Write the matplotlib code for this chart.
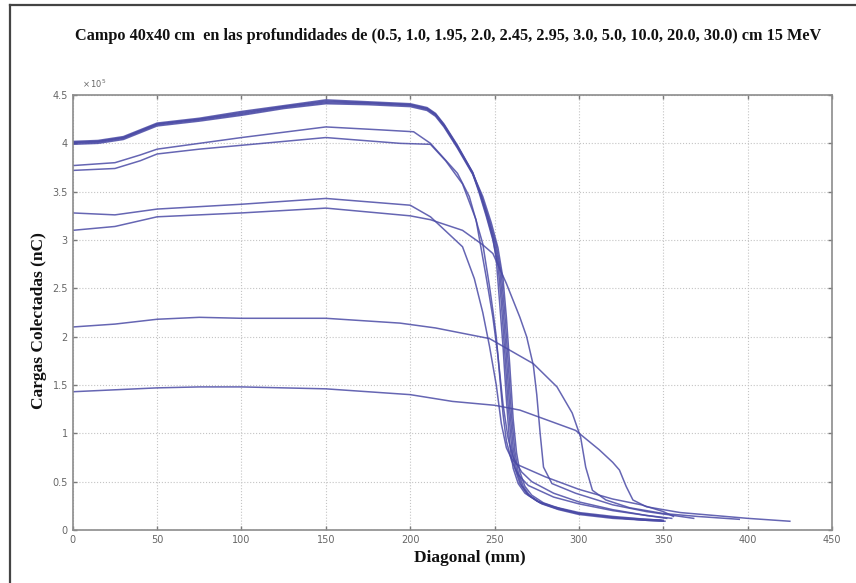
import numpy as np
import matplotlib
matplotlib.use('Agg')
import matplotlib.pyplot as plt
from matplotlib.lines import Line2D

# ── datos (carga en unidades de 1e5 nC) ─────────────────────────────
# haz superior (5 curvas casi superpuestas)
t1_x = [0, 15, 30, 40, 50, 75, 100, 125, 150, 175, 200, 210, 215, 220, 228, 237,
        241, 245, 249, 251, 253, 255, 257, 259, 261, 264, 268, 275, 285, 300, 320, 340, 350]
t1_y = [4.02, 4.03, 4.07, 4.14, 4.21, 4.26, 4.33, 4.39, 4.45, 4.43, 4.41, 4.37, 4.31, 4.20, 3.98, 3.70,
        3.50, 3.27, 3.02, 2.80, 2.35, 1.90, 1.35, 0.88, 0.64, 0.48, 0.38, 0.30, 0.24, 0.18, 0.14, 0.11, 0.10]
t2_x = [0, 15, 30, 40, 50, 75, 100, 125, 150, 175, 200, 210, 215, 220, 228, 237,
        241, 245, 249, 252, 254, 256, 258, 260, 262, 265, 269, 276, 286, 300, 320, 340, 349]
t2_y = [4.00, 4.01, 4.05, 4.12, 4.19, 4.24, 4.30, 4.37, 4.42, 4.41, 4.39, 4.35, 4.29, 4.18, 3.96, 3.69,
        3.48, 3.25, 3.00, 2.75, 2.35, 1.85, 1.30, 0.88, 0.64, 0.48, 0.38, 0.29, 0.23, 0.17, 0.13, 0.11, 0.10]
t3_x = [0, 15, 30, 40, 50, 75, 100, 125, 150, 175, 200, 210, 215, 220, 228, 237,
        242, 246, 250, 253, 255, 257, 259, 261, 263, 266, 270, 277, 287, 300, 320, 340, 351]
t3_y = [4.01, 4.02, 4.06, 4.13, 4.20, 4.25, 4.31, 4.38, 4.43, 4.42, 4.40, 4.36, 4.30, 4.19, 3.97, 3.70,
        3.47, 3.24, 2.98, 2.70, 2.30, 1.80, 1.25, 0.85, 0.62, 0.46, 0.36, 0.28, 0.22, 0.17, 0.13, 0.10, 0.09]
t4_x = [0, 15, 30, 40, 50, 75, 100, 125, 150, 175, 200, 210, 215, 220, 228, 237,
        242, 247, 251, 254, 256, 258, 260, 262, 264, 267, 271, 278, 288, 300, 320, 340, 350]
t4_y = [3.99, 4.00, 4.04, 4.11, 4.18, 4.23, 4.29, 4.36, 4.41, 4.40, 4.38, 4.34, 4.28, 4.17, 3.95, 3.68,
        3.46, 3.20, 2.95, 2.65, 2.25, 1.75, 1.20, 0.82, 0.60, 0.45, 0.35, 0.27, 0.21, 0.16, 0.12, 0.10, 0.09]
t5_x = [0, 15, 30, 40, 50, 75, 100, 125, 150, 175, 200, 210, 215, 220, 228, 237,
        243, 248, 252, 255, 257, 259, 261, 263, 265, 268, 272, 279, 289, 300, 320, 340, 348]
t5_y = [4.01, 4.02, 4.06, 4.13, 4.20, 4.25, 4.32, 4.38, 4.44, 4.42, 4.40, 4.36, 4.30, 4.19, 3.97, 3.69,
        3.45, 3.18, 2.92, 2.60, 2.20, 1.70, 1.15, 0.80, 0.60, 0.45, 0.36, 0.28, 0.22, 0.17, 0.13, 0.10, 0.10]

# segundo par
s1_x = [0, 25, 40, 50, 75, 100, 150, 182, 202, 212, 228, 235, 243, 247, 249, 251,
        253, 255, 257, 260, 264, 270, 285, 300, 320, 340, 355]
s1_y = [3.77, 3.80, 3.88, 3.94, 4.00, 4.06, 4.17, 4.14, 4.12, 4.00, 3.69, 3.45, 2.96, 2.52, 2.27, 2.00,
        1.60, 1.20, 0.92, 0.72, 0.57, 0.46, 0.34, 0.27, 0.20, 0.15, 0.12]
s2_x = [0, 25, 40, 50, 75, 100, 150, 194, 212, 221, 231, 239, 245, 249, 252,
        255, 258, 261, 266, 272, 285, 300, 320, 340, 352]
s2_y = [3.72, 3.74, 3.82, 3.89, 3.94, 3.98, 4.06, 4.00, 3.99, 3.82, 3.58, 3.21, 2.62, 2.20, 1.80,
        1.30, 0.95, 0.75, 0.60, 0.50, 0.38, 0.29, 0.21, 0.15, 0.12]

# tercer par
p1_x = [0, 25, 50, 100, 150, 200, 212, 231, 238, 243, 247, 251, 254, 257, 260,
        263, 280, 300, 320, 337, 350, 356]
p1_y = [3.28, 3.26, 3.32, 3.37, 3.43, 3.36, 3.24, 2.93, 2.60, 2.25, 1.90, 1.50, 1.10, 0.85, 0.74,
        0.68, 0.55, 0.42, 0.32, 0.26, 0.19, 0.14]
p2_x = [0, 25, 50, 100, 150, 200, 212, 231, 243, 249, 257, 265, 269, 273, 275,
        277, 279, 284, 298, 320, 340, 360, 368]
p2_y = [3.10, 3.14, 3.24, 3.28, 3.33, 3.25, 3.21, 3.10, 2.95, 2.86, 2.55, 2.20, 2.00, 1.70, 1.40,
        1.00, 0.65, 0.48, 0.38, 0.26, 0.19, 0.14, 0.12]

# curvas profundas
d20_x = [0, 25, 50, 75, 100, 150, 194, 215, 247, 273, 287, 296, 301, 304, 308,
         316, 330, 350, 370, 395]
d20_y = [2.10, 2.13, 2.18, 2.20, 2.19, 2.19, 2.14, 2.09, 1.98, 1.72, 1.48, 1.21, 0.96, 0.65, 0.41,
         0.31, 0.23, 0.17, 0.14, 0.11]
d30_x = [0, 25, 50, 75, 100, 150, 200, 225, 250, 265, 298, 312, 320, 324, 328,
         332, 340, 360, 380, 400, 425]
d30_y = [1.43, 1.45, 1.47, 1.48, 1.48, 1.46, 1.40, 1.33, 1.29, 1.24, 1.03, 0.83, 0.70, 0.62, 0.45,
         0.31, 0.24, 0.18, 0.15, 0.12, 0.09]

curves = [(t1_x, t1_y), (t2_x, t2_y), (t3_x, t3_y), (t4_x, t4_y), (t5_x, t5_y),
          (s1_x, s1_y), (s2_x, s2_y), (p1_x, p1_y), (p2_x, p2_y),
          (d20_x, d20_y), (d30_x, d30_y)]

x_ticks = [0, 50, 100, 150, 200, 250, 300, 350, 400, 450]
y_ticks = [0, 0.5, 1, 1.5, 2, 2.5, 3, 3.5, 4, 4.5]
y_ticklabels = ['0', '0.5', '1', '1.5', '2', '2.5', '3', '3.5', '4', '4.5']

titulo = ("Campo 40x40 cm  en las profundidades de (0.5, 1.0, 1.95, 2.0, 2.45, "
          "2.95, 3.0, 5.0, 10.0, 20.0, 30.0) cm 15 MeV")

serif = ['Liberation Serif', 'DejaVu Serif']
gris = '#7a7a7a'
linea = '#4b4ba6'

fig = plt.figure(figsize=(8.56, 5.83), dpi=100)
ax = fig.add_axes([0.085, 0.091, 0.887, 0.746])

for xs, ys in curves:
    ax.plot(xs, ys, color=linea, lw=1.1, alpha=0.85)

ax.set_xlim(0, 450)
ax.set_ylim(0, 4.5)
ax.set_xticks(x_ticks)
ax.set_yticks(y_ticks)
ax.set_xticklabels([str(v) for v in x_ticks])
ax.set_yticklabels(y_ticklabels)
ax.tick_params(direction='in', length=3, width=1, colors=gris, labelsize=7,
               top=True, right=True, labelcolor='#666666')
ax.grid(True, linestyle=':', color='#c4c4c4', lw=0.8)
for s in ax.spines.values():
    s.set_color('#8c8c8c')
    s.set_linewidth(1.2)

ax.text(0.012, 1.012, r'$\times\,10^5$', transform=ax.transAxes, fontsize=6,
        color='#666666', va='bottom', ha='left')

fig.text(0.523, 0.938, titulo, ha='center', va='center', family=serif,
         fontweight='bold', fontsize=11.7, color='#111111')
fig.text(0.046, 0.45, 'Cargas Colectadas (nC)', rotation=90, ha='center',
         va='center', family=serif, fontweight='bold', fontsize=12.5, color='#111111')
fig.text(0.549, 0.043, 'Diagonal (mm)', ha='center', va='center', family=serif,
         fontweight='bold', fontsize=12.5, color='#111111')

# marco exterior (borde izquierdo y superior)
fig.add_artist(Line2D([0.012, 0.012], [0.0, 0.991], transform=fig.transFigure,
                      color='#444444', lw=1.6))
fig.add_artist(Line2D([0.012, 1.0], [0.991, 0.991], transform=fig.transFigure,
                      color='#444444', lw=1.6))

fig.savefig('out.png', dpi=100)
